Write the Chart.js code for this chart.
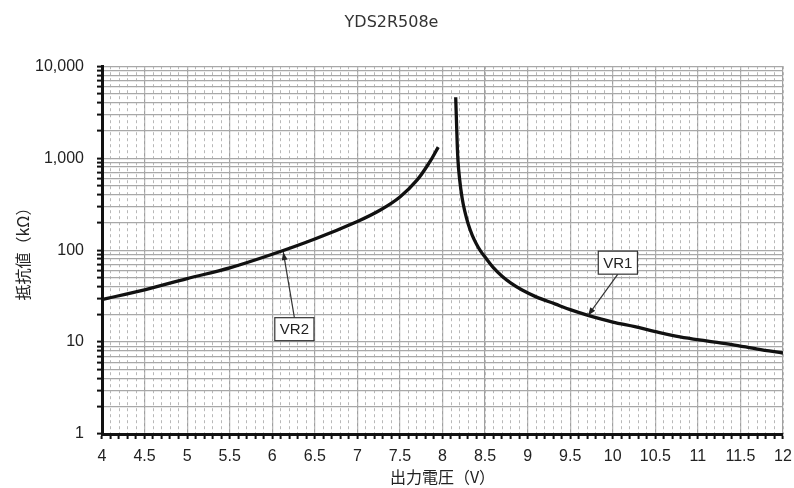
<!DOCTYPE html>
<html>
<head>
<meta charset="utf-8">
<script src="https://cdn.jsdelivr.net/npm/chart.js@4"></script>
<style>
  html, body { margin: 0; padding: 0; background: #fff; }
  #chart { display: block; }
</style>
</head>
<body>
<canvas id="chart" width="794" height="488"></canvas>
<script>
// ── Data ──────────────────────────────────────────────────────
const VOLT_MIN = 4;
const VOLT_MAX = 12;
const decadeTicks = [1, 10, 100, 1000, 10000];

// VR2 : rising branch, left of the gap
const vr2Volts = [4, 4.5, 5, 5.5, 6, 6.5, 7, 7.27, 7.5, 7.7, 7.85, 7.95];
const vr2Kohm  = [29, 37, 49, 64, 90, 132, 205, 273, 378, 576, 910, 1320];

// VR1 : falling branch, right of the gap
const vr1Volts = [8.155, 8.165, 8.18, 8.2, 8.23, 8.26, 8.3, 8.35, 8.4, 8.45, 8.5, 8.6, 8.7, 8.8, 8.93, 9.1, 9.32, 9.5, 9.71, 10, 10.26, 10.5, 10.79, 11.1, 11.4, 11.7, 12];
const vr1Kohm  = [4600, 2400, 1000, 600, 370, 268, 195, 145, 116, 97, 84, 64, 52, 44, 37, 31, 26, 22.5, 19.5, 16.5, 14.7, 13, 11.4, 10.3, 9.4, 8.4, 7.6];

// call-out labels: box position and arrow tip, in data units
const calloutText = ['VR2', 'VR1'];
const calloutBox  = [[6.26, 13.8], [10.06, 73]];
const calloutTip  = [[6.13, 95], [9.71, 19.5]];

// ── Tick helpers ──────────────────────────────────────────────
const voltTicks = [];
for (let i = 0; i <= Math.round((VOLT_MAX - VOLT_MIN) * 10); i++) {
  voltTicks.push(+(VOLT_MIN + i * 0.1).toFixed(1));
}
const isHalfStep = (v) => Math.abs(v * 2 - Math.round(v * 2)) < 1e-6;

const kohmTicks = [];
decadeTicks.slice(0, -1).forEach((d) => {
  for (let m = 1; m <= 9; m++) kohmTicks.push(d * m);
});
kohmTicks.push(decadeTicks[decadeTicks.length - 1]);

const toPoints = (xs, ys) => xs.map((x, i) => ({ x, y: ys[i] }));

const LABEL_FONT = { family: "'Liberation Sans', Arial, sans-serif", size: 16 };
const CJK_FONT = { family: "'Noto Sans CJK JP', sans-serif", size: 16 };

// ── Call-out plugin (box + arrow) ─────────────────────────────
const calloutPlugin = {
  id: 'callouts',
  afterDatasetsDraw(chart) {
    const { ctx, scales: { x, y } } = chart;
    ctx.save();
    ctx.font = "15px 'Liberation Sans', Arial, sans-serif";
    calloutText.forEach((text, i) => {
      const cx = x.getPixelForValue(calloutBox[i][0]);
      const cy = y.getPixelForValue(calloutBox[i][1]);
      const tx = x.getPixelForValue(calloutTip[i][0]);
      const ty = y.getPixelForValue(calloutTip[i][1]);
      const w = ctx.measureText(text).width + 10;
      const h = 23;
      const sy = ty < cy ? cy - h / 2 : cy + h / 2;

      // arrow shaft
      ctx.strokeStyle = '#333';
      ctx.lineWidth = 1.2;
      ctx.beginPath();
      ctx.moveTo(cx, sy);
      ctx.lineTo(tx, ty);
      ctx.stroke();

      // arrow head
      const ang = Math.atan2(ty - sy, tx - cx);
      const len = 8, half = 3;
      ctx.fillStyle = '#222';
      ctx.beginPath();
      ctx.moveTo(tx, ty);
      ctx.lineTo(tx - len * Math.cos(ang) + half * Math.sin(ang), ty - len * Math.sin(ang) - half * Math.cos(ang));
      ctx.lineTo(tx - len * Math.cos(ang) - half * Math.sin(ang), ty - len * Math.sin(ang) + half * Math.cos(ang));
      ctx.closePath();
      ctx.fill();

      // box
      ctx.fillStyle = '#fff';
      ctx.fillRect(cx - w / 2, cy - h / 2, w, h);
      ctx.strokeStyle = '#333';
      ctx.lineWidth = 1.2;
      ctx.strokeRect(cx - w / 2, cy - h / 2, w, h);
      ctx.fillStyle = '#222';
      ctx.textAlign = 'center';
      ctx.textBaseline = 'middle';
      ctx.fillText(text, cx, cy + 1);
    });
    ctx.restore();
  },
};

// ── Chart ─────────────────────────────────────────────────────
new Chart(document.getElementById('chart').getContext('2d'), {
  type: 'line',
  data: {
    datasets: [
      {
        label: 'VR2',
        data: toPoints(vr2Volts, vr2Kohm),
        borderColor: '#111',
        borderWidth: 3.3,
        pointRadius: 0,
        tension: 0.35,
      },
      {
        label: 'VR1',
        data: toPoints(vr1Volts, vr1Kohm),
        borderColor: '#111',
        borderWidth: 3.3,
        pointRadius: 0,
        tension: 0.35,
      },
    ],
  },
  options: {
    responsive: false,
    animation: false,
    layout: { padding: { left: 0, right: 11, top: 0, bottom: 0 } },
    plugins: {
      legend: { display: false },
      tooltip: { enabled: false },
      title: {
        display: true,
        text: 'YDS2R508e',
        color: '#333',
        font: { family: "'DejaVu Sans', sans-serif", size: 16, weight: 'normal' },
        padding: { top: 13, bottom: 34 },
      },
    },
    scales: {
      x: {
        type: 'linear',
        min: VOLT_MIN,
        max: VOLT_MAX,
        afterBuildTicks: (s) => { s.ticks = voltTicks.map((v) => ({ value: v })); },
        afterFit: (s) => { s.height = 54; s.paddingLeft = 0; s.paddingRight = 0; },
        ticks: {
          autoSkip: false,
          maxRotation: 0,
          padding: 8,
          color: '#222',
          font: LABEL_FONT,
          callback: (v) => (isHalfStep(v) ? String(+v.toFixed(1)) : ''),
        },
        grid: {
          color: (c) => (isHalfStep(c.tick.value) ? '#a0a0a0' : 'rgba(0,0,0,0)'),
          lineWidth: 1.2,
          tickColor: '#111',
          tickLength: 5,
          tickWidth: 2,
        },
        border: { color: '#111', width: 3 },
        title: {
          display: true,
          text: '出力電圧（V）',
          color: '#222',
          font: CJK_FONT,
          padding: { top: 0, bottom: 1 },
        },
      },
      xMinor: {
        type: 'linear',
        position: 'bottom',
        min: VOLT_MIN,
        max: VOLT_MAX,
        afterBuildTicks: (s) => { s.ticks = voltTicks.map((v) => ({ value: v })); },
        afterFit: (s) => { s.height = 0; s.paddingLeft = 0; s.paddingRight = 0; },
        ticks: { display: false, autoSkip: false },
        grid: { color: '#b8b8b8', lineWidth: 1, drawTicks: false },
        border: { display: false, dash: [3, 3] },
      },
      y: {
        type: 'logarithmic',
        min: 1,
        max: 10000,
        afterBuildTicks: (s) => { s.ticks = kohmTicks.map((v) => ({ value: v })); },
        afterFit: (s) => { s.width = 102; },
        ticks: {
          autoSkip: false,
          padding: 13,
          color: '#222',
          font: LABEL_FONT,
          callback: (v) => (decadeTicks.includes(v) ? v.toLocaleString('en-US') : ''),
        },
        grid: {
          color: '#a8a8a8',
          lineWidth: 1.2,
          tickColor: '#111',
          tickLength: 5,
          tickWidth: 2,
        },
        border: { color: '#111', width: 3 },
        title: {
          display: true,
          text: '抵抗値（kΩ）',
          color: '#222',
          font: CJK_FONT,
          padding: { top: 13, bottom: 0 },
        },
      },
    },
  },
  plugins: [calloutPlugin],
});
</script>
</body>
</html>
